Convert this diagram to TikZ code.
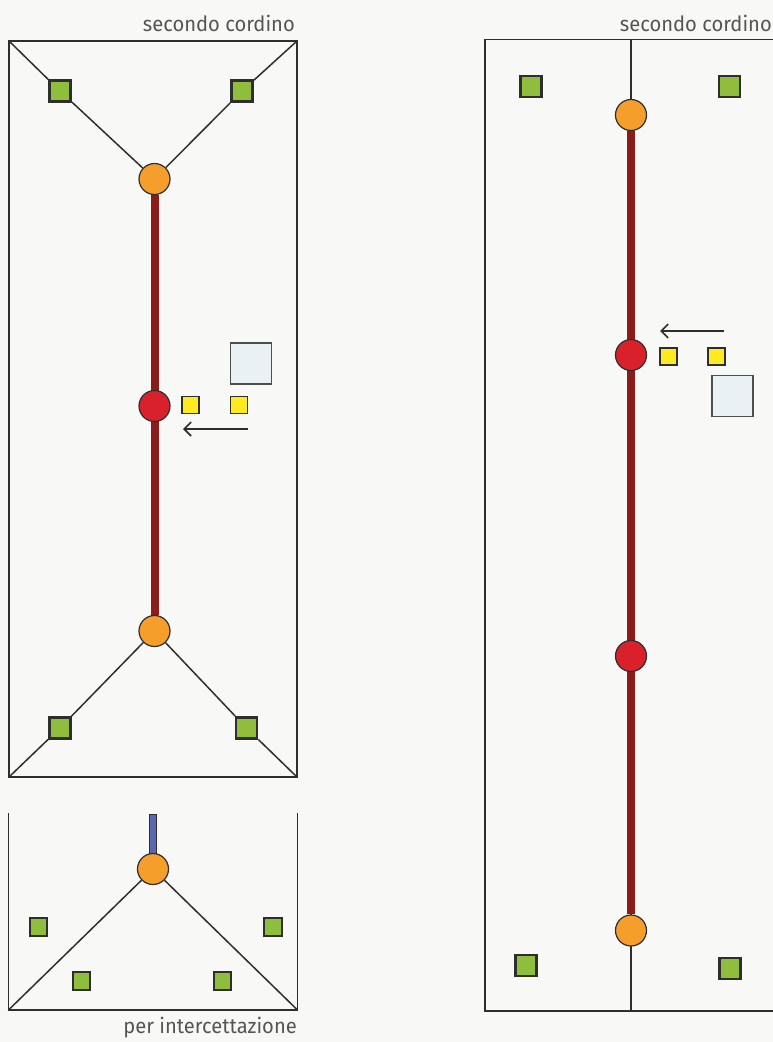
\documentclass[tikz,border=0pt]{standalone}
\usepackage{fontspec}
\newfontfamily\labfont[FakeStretch=0.96]{Fira Sans}
\usetikzlibrary{arrows.meta}
\pgfdeclarelayer{bg}
\pgfdeclarelayer{lines}
\pgfsetlayers{bg,lines,main}
\definecolor{bgc}{HTML}{F8F8F6}
\definecolor{gfill}{HTML}{8FBE3C}
\definecolor{ofill}{HTML}{F59E2B}
\definecolor{rfill}{HTML}{D9212B}
\definecolor{rope}{HTML}{8B1C1C}
\definecolor{yfill}{HTML}{FFE91F}
\definecolor{lfill}{HTML}{EAF1F5}
\definecolor{bfill}{HTML}{5A69AE}
\definecolor{ink}{HTML}{2E2E2E}
\definecolor{txt}{HTML}{555555}
\tikzset{
  gsq/.style={draw=ink,line width=2.8pt,fill=gfill,minimum size=21pt,inner sep=0pt},
  gsqs/.style={draw=ink,line width=1.6pt,fill=gfill,minimum size=17.5pt,inner sep=0pt},
  ysq/.style={draw=ink,line width=1.3pt,fill=yfill,minimum size=17pt,inner sep=0pt},
  lsq/.style={draw=ink!85,line width=1.5pt,fill=lfill,minimum size=41pt,inner sep=0pt},
  ocirc/.style={circle,draw=ink,line width=1.2pt,fill=ofill,minimum size=31pt,inner sep=0pt},
  rcirc/.style={circle,draw=ink,line width=1.2pt,fill=rfill,minimum size=31pt,inner sep=0pt},
  ropeline/.style={draw=rope,line width=8pt},
  thin/.style={draw=ink,line width=1.5pt},
  frame/.style={draw=ink,line width=1.7pt},
  lab/.style={font=\labfont\fontsize{21}{24}\selectfont,text=txt,inner sep=0pt},
  arr/.style={draw=ink,line width=1.6pt,-{Straight Barb[length=7pt,width=14pt,line width=1.6pt]}}
}
\begin{document}
\begin{tikzpicture}[x=1pt,y=-1pt]
\begin{pgfonlayer}{bg}
\fill[bgc] (0,0) rectangle (773,1042);
\end{pgfonlayer}
\useasboundingbox (0,0) rectangle (773,1042);

% ---------- left top panel ----------
\coordinate (A1) at (9,41);
\coordinate (A2) at (297,41);
\coordinate (A3) at (297,777);
\coordinate (A4) at (9,777);
\node[gsq] (g1) at (60,91) {};
\node[gsq] (g2) at (242,91) {};
\node[gsq] (g3) at (60,728) {};
\node[gsq] (g4) at (246.5,728) {};
\node[ocirc] (o1) at (154.5,179) {};
\node[ocirc] (o2) at (154.5,631) {};
\node[rcirc] (r1) at (154.5,406) {};
\node[ysq] (y1) at (190.5,405) {};
\node[ysq] (y2) at (239,405) {};
\node[lsq] (l1) at (251,363.5) {};
\coordinate (a1s) at (248,429);
\coordinate (a1e) at (183,429);
\node[lab,anchor=base east] (t1) at (295,31) {secondo cordino};
\begin{pgfonlayer}{lines}
\draw[frame] (A1) rectangle (A3);
\draw[thin] (A1) -- (g1) -- (o1);
\draw[thin] (A2) -- (g2) -- (o1);
\draw[thin] (A4) -- (g3) -- (o2);
\draw[thin] (A3) -- (g4) -- (o2);
\draw[ropeline] (o1) -- (o2);
\end{pgfonlayer}
\draw[arr] (a1s) -- (a1e);

% ---------- left bottom panel ----------
\coordinate (B1) at (8.5,813);
\coordinate (B2) at (8.5,1010);
\coordinate (B3) at (297.5,1010);
\coordinate (B4) at (297.5,813);
\node[draw=ink,line width=0.8pt,fill=bfill,minimum width=7.5pt,minimum height=44pt,inner sep=0pt,anchor=north] (bl) at (153,814) {};
\node[ocirc] (o3) at (153,869) {};
\node[gsqs] (s1) at (38.5,927) {};
\node[gsqs] (s2) at (273,927) {};
\node[gsqs] (s3) at (81.5,981) {};
\node[gsqs] (s4) at (222.5,981) {};
\node[lab,anchor=base east] (t2) at (297,1033) {per intercettazione};
\begin{pgfonlayer}{lines}
\draw[frame] (B1) -- (B2) -- (B3) -- (B4);
\draw[thin] (B2) -- (o3) -- (B3);
\end{pgfonlayer}

% ---------- right panel ----------
\coordinate (C1) at (485,39.5);
\coordinate (C3) at (800,1011);
\coordinate (Ct) at (631,39.5);
\coordinate (Cb) at (631,1011);
\node[gsq] (g5) at (531,86.5) {};
\node[gsq] (g6) at (729.5,86.5) {};
\node[gsq] (g7) at (526,965.5) {};
\node[gsq] (g8) at (730,968.5) {};
\node[ocirc] (o4) at (631,115) {};
\node[ocirc] (o5) at (631,930.5) {};
\node[rcirc] (r2) at (631,355) {};
\node[rcirc] (r3) at (631,656) {};
\node[ysq] (y3) at (668.5,356.5) {};
\node[ysq] (y4) at (716.5,356.5) {};
\node[lsq] (l2) at (732.5,396) {};
\coordinate (a2s) at (724,331);
\coordinate (a2e) at (660,331);
\node[lab,anchor=base east] (t3) at (772,31) {secondo cordino};
\begin{pgfonlayer}{lines}
\draw[frame] (C1) rectangle (C3);
\draw[thin] (Ct) -- (Cb);
\draw[ropeline] (o4) -- (o5);
\end{pgfonlayer}
\draw[arr] (a2s) -- (a2e);
\end{tikzpicture}
\end{document}
